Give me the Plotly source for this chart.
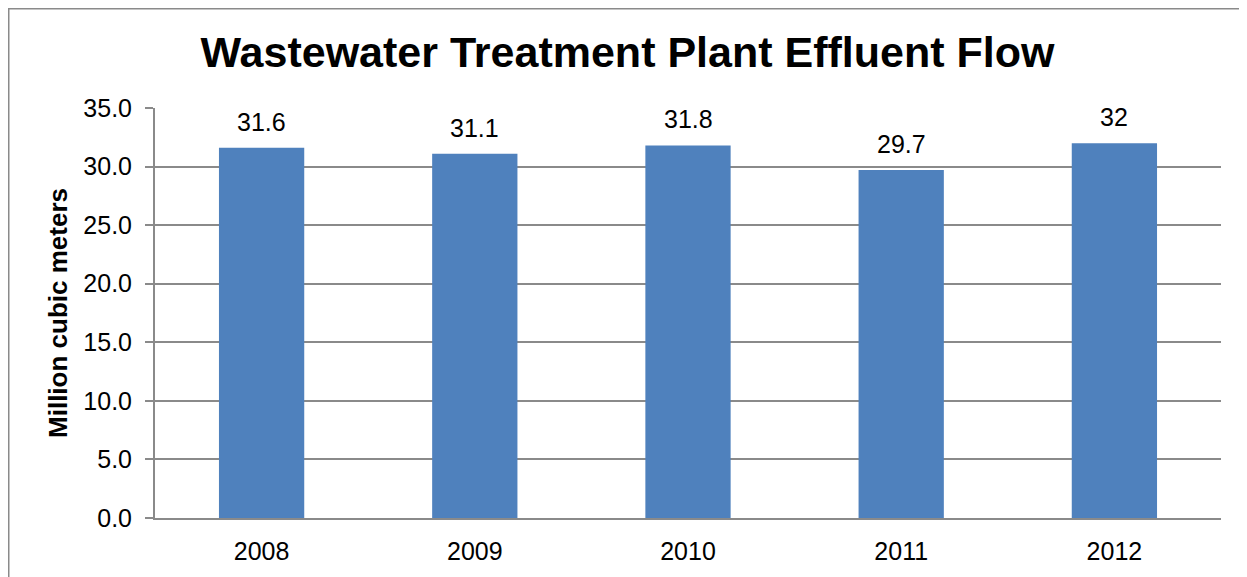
import plotly.graph_objects as go

years = ["2008", "2009", "2010", "2011", "2012"]
flow = [31.6, 31.1, 31.8, 29.7, 32.0]
labels = ["31.6", "31.1", "31.8", "29.7", "32"]
y_ticks = [0, 5, 10, 15, 20, 25, 30, 35]

# page body has an 8px margin; figure coordinates are page - 8
W, H = 1239, 569
L, R, T, B = 147, 26, 100, 59
FONT = "Liberation Sans, Arial, sans-serif"
GRID = "#8a8a8a"

fig = go.Figure()
fig.add_trace(go.Bar(
    x=years, y=flow, width=0.4,
    marker=dict(color="#4F81BD", line=dict(width=0)),
    showlegend=False, hoverinfo="x+y",
))

for i, (yv, t) in enumerate(zip(flow, labels)):
    fig.add_annotation(x=i, y=yv, text=t, showarrow=False, yanchor="bottom",
                       yshift=10, font=dict(family=FONT, size=25, color="#000"))

pw, ph = W - L - R, H - T - B
def px(x): return (x - L) / pw
def py(y): return (H - B - y) / ph

fig.add_shape(type="line", xref="paper", yref="paper",
              x0=px(0.5), x1=px(0.5), y0=py(0), y1=py(H + 5),
              line=dict(color=GRID, width=2))
fig.add_shape(type="line", xref="paper", yref="paper",
              x0=px(0), x1=px(W + 5), y0=py(0.5), y1=py(0.5),
              line=dict(color=GRID, width=2))

fig.update_layout(
    width=W, height=H,
    margin=dict(l=L, r=R, t=T, b=B),
    paper_bgcolor="white", plot_bgcolor="white",
    title=dict(text="<b>Wastewater Treatment Plant Effluent Flow</b>",
               x=0.5, xanchor="center", y=1 - 44 / H, yanchor="middle",
               font=dict(family=FONT, size=43, color="#000")),
    font=dict(family=FONT, color="#000"),
    bargap=0.6,
)
fig.update_xaxes(
    type="category", range=[-0.5, 4.5], showline=True, linecolor=GRID, linewidth=2,
    ticks="", showgrid=False, ticklabelstandoff=10,
    tickfont=dict(family=FONT, size=25, color="#000"),
)
fig.update_yaxes(
    range=[0, 35], tickvals=y_ticks, tickformat=".1f",
    showgrid=True, gridcolor=GRID, gridwidth=1.5,
    showline=True, linecolor=GRID, linewidth=2,
    ticks="outside", ticklen=8, tickcolor=GRID, tickwidth=1.5,
    zeroline=False, ticklabelstandoff=8,
    tickfont=dict(family=FONT, size=25, color="#000"),
    title=dict(text="<b>Million cubic meters</b>", standoff=8,
               font=dict(family=FONT, size=26, color="#000")),
)

fig.write_html("out.html")
